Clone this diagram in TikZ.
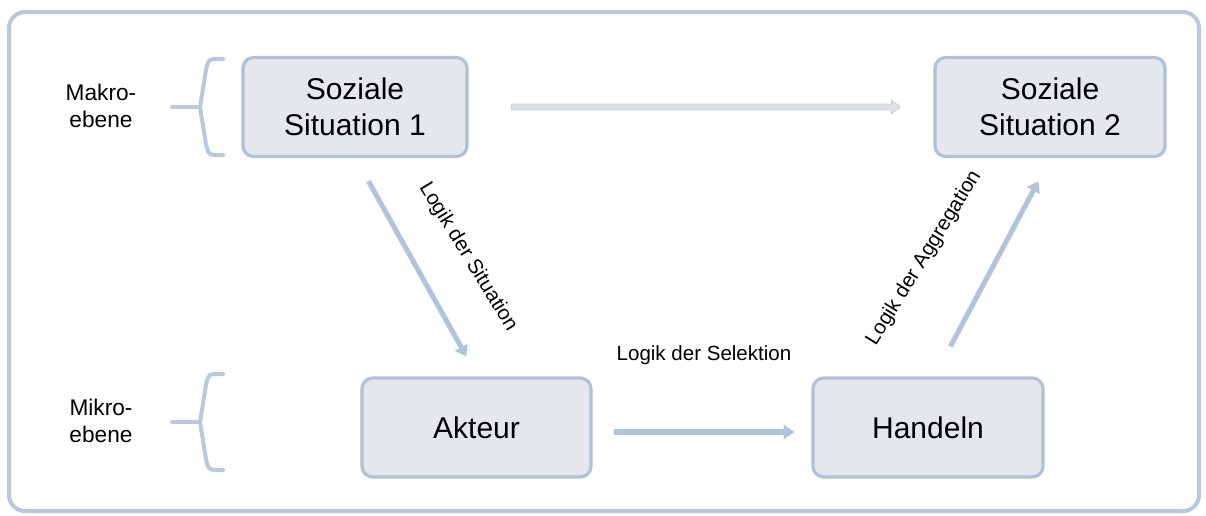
\documentclass[tikz,border=0pt]{standalone}
\usepackage{fontspec}
\setmainfont{Liberation Sans}
\usetikzlibrary{calc,arrows.meta}
\definecolor{framec}{RGB}{184,200,222}
\definecolor{arrc}{RGB}{178,196,220}
\definecolor{boxfill}{RGB}{228,232,237}
\definecolor{boxedge}{RGB}{176,194,216}
\definecolor{harrfill}{RGB}{222,226,230}
\definecolor{harredge}{RGB}{200,208,218}
\tikzset{
  box/.style={draw=boxedge, fill=boxfill, line width=2.4pt, rounded corners=8pt,
    minimum height=74.25pt, align=center, inner sep=0pt,
    font=\fontsize{22.5}{27}\selectfont},
  lvl/.style={align=center, font=\fontsize{17}{20}\selectfont, inner sep=0pt},
  logik/.style={font=\fontsize{15.4}{18}\selectfont, inner sep=0pt},
  brace/.style={draw=framec, line width=3pt, line cap=round, line join=round},
  arr/.style={draw=arrc, line width=3.8pt, -{Triangle[width=10.5pt,length=8pt]}}
}
\begin{document}
\begin{tikzpicture}[x=0.75pt,y=-0.75pt]
\useasboundingbox (0,0) rectangle (1206,515);
% outer frame
\draw[draw=framec, line width=3pt, rounded corners=12pt] (9,12) rectangle (1199,511);

% boxes
\node[box, minimum width=168pt] (s1) at (355,107) {Soziale\\Situation 1};
\node[box, minimum width=172.5pt] (s2) at (1050,107) {Soziale\\Situation 2};
\node[box, minimum width=171.75pt] (akt) at (476.5,427.5) {Akteur};
\node[box, minimum width=172.5pt] (hand) at (928,427.5) {Handeln};

% level labels
\node[lvl] (makro) at (101,106) {Makro-\\ebene};
\node[lvl] (mikro) at (101,421) {Mikro-\\ebene};

% braces
\coordinate (mb) at (200,107);
\draw[brace] (172,107) -- (mb);
\draw[brace] (223,59) -- (214,59) .. controls (209,59) and (207,63) .. (206,70) -- (mb)
  -- (206,144) .. controls (207,151) and (209,155) .. (214,155) -- (223,155);
\coordinate (ib) at (200,422);
\draw[brace] (172,422) -- (ib);
\draw[brace] (223,374) -- (214,374) .. controls (209,374) and (207,378) .. (206,385) -- (ib)
  -- (206,459) .. controls (207,466) and (209,470) .. (214,470) -- (223,470);

% horizontal macro arrow (hollow block arrow)
\coordinate (ha) at ($(s1.east)+(43,0)$);
\coordinate (hb) at ($(s2.west)+(-33,0)$);
\draw[draw=harredge, fill=harrfill, line width=0.6pt, line join=round]
  ($(ha)+(0,-3)$) -- ($(hb)+(-9,-3)$) -- ($(hb)+(-9,-7)$) -- (hb)
  -- ($(hb)+(-9,7)$) -- ($(hb)+(-9,3)$) -- ($(ha)+(0,3)$) -- cycle;

% arrows
\draw[arr] ($(s1.south west)+(127,23)$) -- ($(akt.north west)+(106,-20)$);
\draw[arr] ($(akt.east)+(21,4.5)$) -- ($(hand.west)+(-17,4.5)$);
\draw[arr] ($(hand.north west)+(139,-30)$) -- ($(s2.south west)+(105,23)$);

% logic labels
\node[logik, rotate=-58.5] (lsit) at (468,257) {Logik der Situation};
\node[logik] (lsel) at (704,355) {Logik der Selektion};
\node[logik, rotate=58.4] (lagg) at (924,258) {Logik der Aggregation};
\end{tikzpicture}
\end{document}
